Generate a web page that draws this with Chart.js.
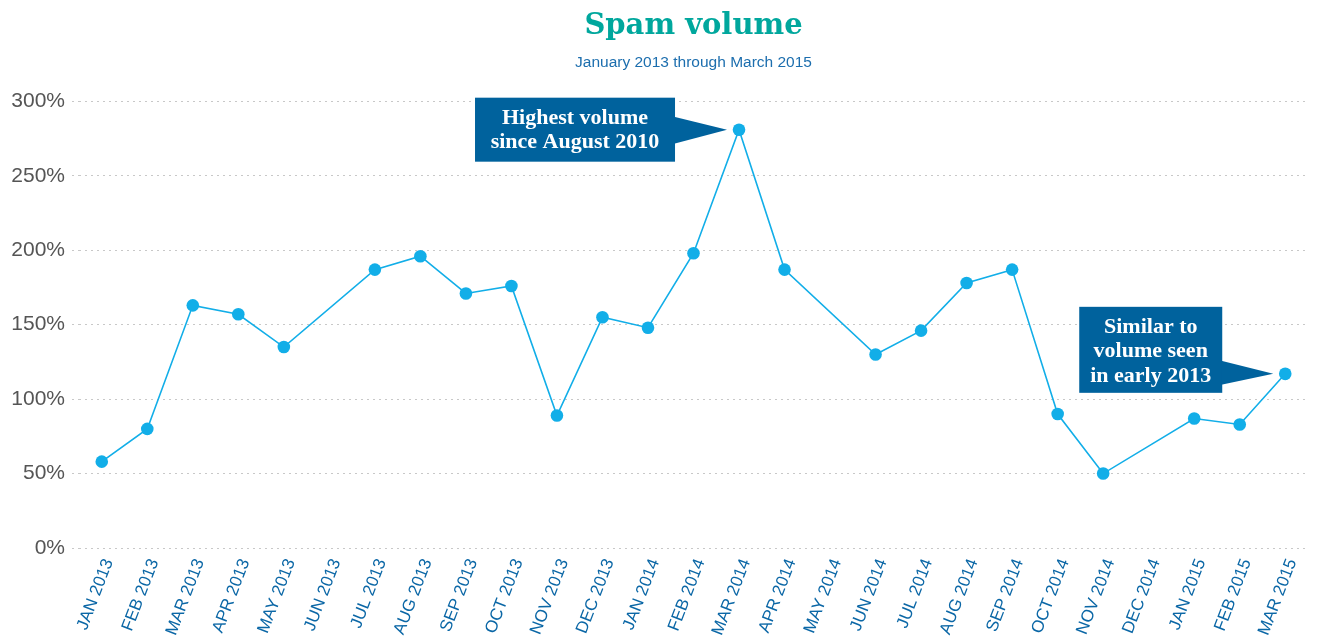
<!DOCTYPE html>
<html>
<head>
<meta charset="utf-8">
<script src="https://cdn.jsdelivr.net/npm/chart.js@4/dist/chart.umd.min.js"></script>
<style>
html,body{margin:0;padding:0;background:#fff;}
#wrap{width:1317px;height:644px;position:relative;}
</style>
</head>
<body>
<div id="wrap"><canvas id="c" width="1317" height="644"></canvas></div>
<script>
const categories = ["JAN 2013","FEB 2013","MAR 2013","APR 2013","MAY 2013","JUN 2013","JUL 2013","AUG 2013","SEP 2013","OCT 2013","NOV 2013","DEC 2013","JAN 2014","FEB 2014","MAR 2014","APR 2014","MAY 2014","JUN 2014","JUL 2014","AUG 2014","SEP 2014","OCT 2014","NOV 2014","DEC 2014","JAN 2015","FEB 2015","MAR 2015"];
const spamVolume = [58, 80, 163, 157, 135, null, 187, 196, 171, 176, 89, 155, 148, 198, 281, 187, null, 130, 146, 178, 187, 90, 50, null, 87, 83, 117];
const yTicks = [0, 50, 100, 150, 200, 250, 300];
const titleText = "Spam volume";
const subtitleText = "January 2013 through March 2015";
const annotations = [
  {category: "MAR 2014", lines: ["Highest volume", "since August 2010"]},
  {category: "MAR 2015", lines: ["Similar to", "volume seen", "in early 2013"]}
];
const annotationBoxes = [
  {left: -264, right: -64, top: -32, bottom: 32, tipTop: -13, tipBottom: 14, firstBaseline: -6},
  {left: -206, right: -63, top: -67, bottom: 19, tipTop: -13, tipBottom: 11, firstBaseline: -41}
];

const calloutPlugin = {
  id: 'callouts',
  afterDatasetsDraw(chart) {
    const ctx = chart.ctx;
    const xs = chart.scales.x, ys = chart.scales.y;
    annotations.forEach((a, i) => {
      const idx = categories.indexOf(a.category);
      const px = xs.getPixelForValue(idx);
      const py = ys.getPixelForValue(spamVolume[idx]);
      const b = annotationBoxes[i];
      ctx.save();
      ctx.fillStyle = '#00629d';
      ctx.fillRect(px + b.left, py + b.top, b.right - b.left, b.bottom - b.top);
      ctx.beginPath();
      ctx.moveTo(px + b.right - 1, py + b.tipTop);
      ctx.lineTo(px - 12, py);
      ctx.lineTo(px + b.right - 1, py + b.tipBottom);
      ctx.closePath();
      ctx.fill();
      ctx.fillStyle = '#ffffff';
      ctx.font = 'bold 22px "Liberation Serif", serif';
      ctx.textAlign = 'center';
      ctx.textBaseline = 'alphabetic';
      const cx = px + (b.left + b.right) / 2;
      a.lines.forEach((ln, j) => {
        ctx.fillText(ln, cx, py + b.firstBaseline + j * 24.5);
      });
      ctx.restore();
    });
  }
};

new Chart(document.getElementById('c'), {
  type: 'line',
  data: {
    labels: categories,
    datasets: [{
      data: spamVolume,
      borderColor: '#12aee8',
      backgroundColor: '#12aee8',
      borderWidth: 1.6,
      pointRadius: 6.3,
      pointHoverRadius: 6.3,
      pointBorderWidth: 0,
      spanGaps: true,
      tension: 0
    }]
  },
  options: {
    responsive: false,
    animation: false,
    devicePixelRatio: 1,
    layout: {padding: {top: 0, left: 0, right: 9, bottom: 0}},
    plugins: {
      legend: {display: false},
      tooltip: {enabled: false},
      title: {
        display: true,
        fullSize: false,
        text: titleText,
        color: '#00a79d',
        font: {family: '"DejaVu Serif", serif', size: 29, weight: 'bold', lineHeight: 1.2},
        padding: {top: 9, bottom: 10}
      },
      subtitle: {
        display: true,
        fullSize: false,
        text: subtitleText,
        color: '#1c6eae',
        font: {family: '"Liberation Sans", Arial, sans-serif', size: 15.5, lineHeight: 1.2},
        padding: {top: 0, bottom: 29}
      }
    },
    scales: {
      x: {
        offset: true,
        grid: {display: false},
        border: {display: false},
        ticks: {
          color: '#0b67a6',
          font: {family: '"Liberation Sans", Arial, sans-serif', size: 17},
          minRotation: 69,
          maxRotation: 69,
          autoSkip: false,
          padding: 0,
          labelOffset: 7
        },
        afterFit(s) { s.height = 96; }
      },
      y: {
        min: 0,
        max: 300,
        afterBuildTicks(s) { s.ticks = yTicks.map(v => ({value: v})); },
        grid: {
          color: '#c8c8c8',
          lineWidth: 1,
          tickLength: 7,
          tickColor: '#c8c8c8',
          tickBorderDash: [2, 4]
        },
        border: {display: false, dash: [2, 4]},
        ticks: {
          color: '#555555',
          font: {family: '"Liberation Sans", Arial, sans-serif', size: 21},
          padding: 7,
          callback: v => v + '%'
        },
        afterFit(s) { s.width = 79; }
      }
    }
  },
  plugins: [calloutPlugin]
});
</script>
</body>
</html>
